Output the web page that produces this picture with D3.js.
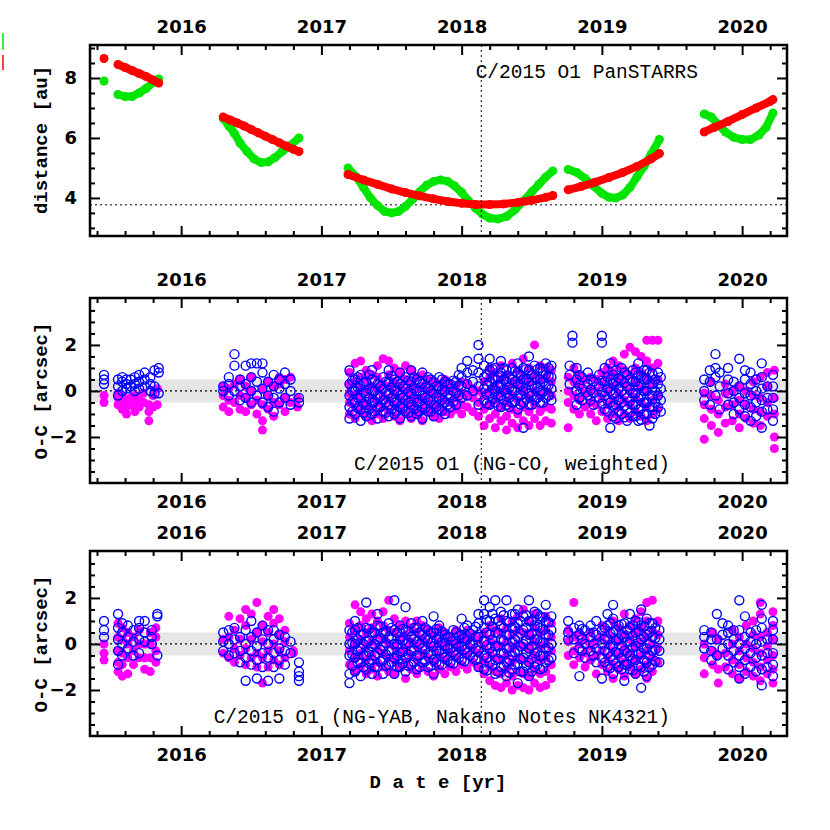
<!DOCTYPE html>
<html>
<head>
<meta charset="utf-8">
<script src="https://cdn.jsdelivr.net/npm/d3@7"></script>
<style>
body { margin: 0; background: #fff; }
.tick text { font-family: "DejaVu Sans"; font-weight: bold; font-size: 18px; fill: #000; }
.domain { display: none; }
.tick line { stroke: #000; stroke-width: 2; }
</style>
</head>
<body>
<div id="chart"></div>
<script>
// Comet C/2015 O1 - distances and O-C residuals

const W = 830, H = 830
const X0 = 90, X1 = 787
const PANELS = { TOP: [45, 236], MID: [298, 483], BOT: [551, 736] }

const years = [2016, 2017, 2018, 2019, 2020]
const perihelion = 2018.14
const periDist = 3.77

// heliocentric (red) and geocentric (green) distance, one array per season
const sunDist = [
  [[2015.45, 8.65]],
  [[2015.55, 8.45], [2015.6, 8.35], [2015.65, 8.25], [2015.7, 8.15], [2015.75, 8.05], [2015.8, 7.93], [2015.84, 7.83]],
  [[2016.30, 6.7], [2016.35, 6.6], [2016.4, 6.5], [2016.45, 6.4], [2016.5, 6.28], [2016.55, 6.17], [2016.6, 6.06], [2016.65, 5.95], [2016.7, 5.84], [2016.75, 5.73], [2016.8, 5.62], [2016.84, 5.55]],
  [[2017.19, 4.78], [2017.3, 4.6], [2017.4, 4.45], [2017.5, 4.3], [2017.6, 4.18], [2017.7, 4.07], [2017.8, 3.97], [2017.9, 3.88], [2018.0, 3.82], [2018.1, 3.78], [2018.2, 3.78], [2018.3, 3.8], [2018.4, 3.85], [2018.5, 3.92], [2018.6, 4.02], [2018.65, 4.08]],
  [[2018.76, 4.27], [2018.85, 4.38], [2018.95, 4.52], [2019.05, 4.68], [2019.15, 4.85], [2019.25, 5.05], [2019.35, 5.3], [2019.41, 5.48]],
  [[2019.73, 6.2], [2019.8, 6.35], [2019.9, 6.55], [2020.0, 6.78], [2020.1, 7.0], [2020.2, 7.22], [2020.22, 7.28]]
]
const earthDist = [
  [[2015.45, 7.9]],
  [[2015.55, 7.45], [2015.6, 7.38], [2015.65, 7.38], [2015.7, 7.5], [2015.75, 7.65], [2015.8, 7.85], [2015.84, 7.97]],
  [[2016.30, 6.65], [2016.34, 6.4], [2016.38, 6.15], [2016.42, 5.83], [2016.47, 5.55], [2016.52, 5.3], [2016.57, 5.18], [2016.62, 5.2], [2016.67, 5.35], [2016.72, 5.55], [2016.77, 5.72], [2016.84, 6.0]],
  [[2017.19, 5.0], [2017.25, 4.7], [2017.3, 4.35], [2017.35, 4.0], [2017.4, 3.75], [2017.45, 3.55], [2017.5, 3.5], [2017.55, 3.55], [2017.6, 3.72], [2017.65, 3.95], [2017.7, 4.2], [2017.75, 4.42], [2017.8, 4.55], [2017.85, 4.6], [2017.9, 4.55], [2017.95, 4.4], [2018.0, 4.18], [2018.05, 3.9], [2018.1, 3.65], [2018.15, 3.45], [2018.2, 3.33], [2018.26, 3.3], [2018.32, 3.38], [2018.38, 3.6], [2018.44, 3.9], [2018.5, 4.2], [2018.55, 4.45], [2018.6, 4.7], [2018.65, 4.9]],
  [[2018.76, 4.95], [2018.82, 4.85], [2018.88, 4.65], [2018.94, 4.4], [2019.0, 4.15], [2019.05, 4.02], [2019.1, 4.0], [2019.15, 4.1], [2019.2, 4.35], [2019.25, 4.7], [2019.3, 5.05], [2019.35, 5.45], [2019.41, 5.95]],
  [[2019.73, 6.8], [2019.78, 6.7], [2019.83, 6.45], [2019.88, 6.2], [2019.94, 6.02], [2020.0, 5.95], [2020.06, 5.95], [2020.12, 6.1], [2020.17, 6.35], [2020.22, 6.83]]
]

// O-C residuals: each row is [date, residual, residual, ...]
const coMagenta = [
  [2015.45, -0.2, -0.5], [2015.55, -0.3, -0.6, -0.1], [2015.58, -0.5, -0.8, -0.2], [2015.61, -0.4, -0.7, -1.0], [2015.64, -0.3, -0.6], [2015.67, -0.5, -0.9, -0.2], [2015.70, -0.4, -0.7], [2015.73, -0.1, -0.5], [2015.77, -0.6, -0.9, -1.3], [2015.80, -0.2, -0.7], [2015.83, -0.6, 0.1],
  [2016.30, -0.7, -0.2, 0.2], [2016.34, -0.9, -0.4, 0.1], [2016.38, -0.5, 0.3], [2016.42, -0.8, -0.2, 0.5], [2016.46, -0.9, -0.3, 0.2], [2016.50, -0.6, 0, 0.6], [2016.54, -1.0, -0.4], [2016.58, -1.3, -1.7, -0.6, 0.1], [2016.62, -0.8, -0.2, 0.4], [2016.66, -1.1, -0.5, 0.2], [2016.70, -0.6, 0.3, 0.6], [2016.74, -0.9, -0.3, 0.5], [2016.78, -0.5, 0.6], [2016.83, -0.7, -0.3],
  [2017.20, -1.0, -0.5, -0.1, 0.3, 0.8], [2017.24, -1.2, -0.7, -0.2, 0.4, 1.2], [2017.28, -0.9, -0.4, 0.1, 0.6, 1.3], [2017.32, -1.1, -0.6, 0, 0.5, 0.9], [2017.36, -1.3, -0.8, -0.3, 0.2, 0.7], [2017.40, -1.0, -0.5, 0.1, 0.6, 1.1], [2017.44, -1.2, -0.7, -0.2, 0.3, 1.4], [2017.48, -0.9, -0.4, 0.2, 0.7, 1.3], [2017.52, -1.1, -0.6, -0.1, 0.4, 1.0], [2017.56, -1.3, -0.8, -0.3, 0.2, 0.8], [2017.60, -1.0, -0.5, 0, 0.5, 1.1], [2017.64, -1.2, -0.7, -0.2, 0.3, 0.9], [2017.68, -1.0, -0.4, 0.1, 0.6], [2017.72, -1.3, -0.8, -0.3, 0.2, 0.7], [2017.76, -0.9, -0.5, 0, 0.5], [2017.80, -1.1, -0.6, -0.1, 0.4], [2017.84, -1.2, -0.7, -0.2, 0.3], [2017.88, -0.9, -0.4, 0.1, 0.5], [2017.92, -1.0, -0.5, 0, 0.3], [2017.96, -0.8, -0.3, 0.2], [2018.00, -1.0, -0.6, -0.1, 0.4], [2018.04, -0.7, -0.2, 0.3], [2018.08, -0.9, -0.3, 0.1], [2018.12, -1.1, -0.5, 0],
  [2018.16, -1.5, -0.8, -0.2, 0.4], [2018.20, -1.2, -0.6, 0, 0.6, 1.0], [2018.24, -1.6, -1.0, -0.4, 0.2, 0.8], [2018.28, -1.3, -0.7, -0.1, 0.5, 1.1], [2018.32, -1.7, -1.1, -0.5, 0.1, 0.7], [2018.36, -1.4, -0.8, -0.2, 0.4, 1.2], [2018.40, -1.6, -1.0, -0.4, 0.3, 0.9], [2018.44, -1.3, -0.7, 0, 0.6, 1.4], [2018.48, -1.5, -0.9, -0.3, 0.4, 1.0], [2018.52, -1.2, -0.6, 0, 0.7, 2.0], [2018.56, -1.5, -0.9, -0.2, 0.5, 1.1], [2018.60, -1.3, -0.7, 0, 0.6, 1.0], [2018.64, -1.4, -0.8, -0.2, 0.4, 0.9],
  [2018.76, -1.6, -0.5, 0, 0.6], [2018.80, -0.8, -0.2, 0.4, 1.0], [2018.84, -1.0, -0.4, 0.2, 0.7], [2018.88, -0.7, -0.1, 0.5], [2018.92, -1.0, -0.5, 0.1, 0.6], [2018.96, -1.3, -0.6, 0, 0.5], [2019.00, -0.9, -0.3, 0.3, 0.8], [2019.04, -1.2, -0.6, 0, 0.6, 1.0], [2019.08, -1.0, -0.4, 0.2, 0.8, 1.3], [2019.12, -1.3, -0.7, -0.1, 0.5, 1.1], [2019.16, -1.0, -0.4, 0.3, 0.9, 1.6], [2019.20, -1.2, -0.6, 0, 0.7, 1.9], [2019.24, -0.9, -0.3, 0.4, 1.0, 1.7], [2019.28, -1.1, -0.5, 0.1, 0.8, 1.5], [2019.32, -1.3, -0.7, 0, 0.6, 1.3, 2.2], [2019.36, -1.0, -0.4, 0.3, 1.0, 2.2], [2019.40, -0.8, -0.2, 0.5, 1.2, 2.2],
  [2019.73, -2.1, -1.2, -0.6, -0.1], [2019.78, -1.5, -0.8, -0.2, 0.4], [2019.83, -1.8, -1.0, -0.4], [2019.88, -1.4, -0.7, -0.1, 0.3], [2019.93, -1.3, -0.6, 0], [2019.98, -1.6, -1.0, -0.4, 0.2], [2020.03, -1.2, -0.6, 0], [2020.08, -1.4, -0.8, -0.2, 0.4], [2020.13, -1.5, -0.9, -0.3, 0.6], [2020.18, -1.1, -0.5, 0.2, 0.8], [2020.23, -2.5, -2.0, -1.0, -0.3, 0.9]
]
const coBlue = [
  [2015.45, 0.3, 0.5, 0.7], [2015.55, -0.2, 0.2, 0.5], [2015.58, 0, 0.4, 0.6], [2015.61, 0.1, 0.3, 0.5], [2015.64, 0.2, 0.5], [2015.67, 0, 0.3, 0.6], [2015.70, 0.1, 0.4, 0.7], [2015.74, 0.2, 0.5, 0.8], [2015.78, 0, 0.3, 0.6], [2015.81, -0.1, 0.2, 0.9], [2015.84, -0.1, 0.8, 1.0],
  [2016.30, 0, 0.2], [2016.34, -0.2, 0.3, 0.6], [2016.38, 0, 1.1, 1.6], [2016.42, -0.4, 0.2, 0.5], [2016.46, -0.3, 0.3, 1.1], [2016.50, -0.5, 0, 0.6, 1.2], [2016.54, -0.2, 0.4, 1.2], [2016.58, -0.5, 0.1, 0.8, 1.2], [2016.62, -0.7, -0.2, 0.4], [2016.66, -0.9, -0.3, 0.2, 0.7], [2016.70, -0.5, 0.1, 0.5], [2016.74, -0.3, 0.3, 0.8], [2016.78, -0.6, 0, 0.5], [2016.84, -0.5, -0.3],
  [2017.20, -1.2, -0.7, -0.2, 0.3, 0.9], [2017.24, -1.0, -0.5, 0, 0.5], [2017.28, -1.3, -0.8, -0.3, 0.2, 0.7], [2017.32, -1.1, -0.6, -0.1, 0.4], [2017.36, -1.0, -0.5, 0, 0.5, 0.9], [2017.40, -1.2, -0.7, -0.2, 0.3], [2017.44, -0.9, -0.4, 0.1, 0.6], [2017.48, -1.1, -0.6, -0.1, 0.4, 0.9], [2017.52, -1.0, -0.5, 0, 0.5], [2017.56, -1.2, -0.7, -0.2, 0.3, 0.8], [2017.60, -0.9, -0.4, 0.1, 0.6], [2017.64, -1.1, -0.6, -0.1, 0.4, 0.9], [2017.68, -1.0, -0.5, 0, 0.5], [2017.72, -1.2, -0.7, -0.2, 0.3, 0.8], [2017.76, -0.9, -0.4, 0.1, 0.6], [2017.80, -1.1, -0.6, -0.1, 0.4], [2017.84, -0.8, -0.3, 0.2, 0.6], [2017.88, -1.0, -0.5, 0, 0.4], [2017.92, -0.7, -0.2, 0.3], [2017.96, -0.6, -0.1, 0.4], [2018.00, -0.3, 0.2, 0.6, 1.0], [2018.04, -0.2, 0.3, 0.8, 1.3], [2018.08, 0, 0.4, 0.9], [2018.12, -0.6, 0.2, 0.8, 1.4, 2.0],
  [2018.16, -0.4, 0.1, 0.6, 1.1], [2018.20, -0.6, -0.1, 0.4, 0.9, 1.4], [2018.24, -0.5, 0, 0.5, 1.0], [2018.28, -0.7, -0.2, 0.3, 0.8, 1.3], [2018.32, -0.6, -0.1, 0.4, 0.9], [2018.36, -0.5, 0, 0.5, 1.0], [2018.40, -0.8, -0.2, 0.3, 0.8, 1.2], [2018.44, -1.6, -0.5, 0, 0.5, 1.0], [2018.48, -0.6, -0.1, 0.4, 0.9, 1.5], [2018.52, -0.4, 0.1, 0.6, 1.1], [2018.56, -0.5, 0, 0.5, 1.0], [2018.60, -0.3, 0.2, 0.7, 1.2], [2018.64, -0.4, 0.1, 0.6, 1.1],
  [2018.77, 0.3, 0.7, 1.1], [2018.79, 2.1, 2.4], [2018.82, -0.6, 0, 0.5, 1.0], [2018.86, -0.4, 0.1, 0.6], [2018.90, -0.2, 0.3, 0.8], [2018.94, -0.6, -0.1, 0.4], [2018.98, -0.3, 0.2, 0.7], [2019.00, 2.1, 2.4], [2019.02, -0.8, -0.2, 0.4, 1.0], [2019.06, -1.6, -0.5, 0, 0.5, 1.2], [2019.10, -1.2, -0.6, -0.1, 0.4, 0.9], [2019.14, -1.0, -0.5, 0, 0.5, 1.0], [2019.18, -1.3, -0.8, -0.3, 0.2, 0.7], [2019.22, -1.1, -0.6, -0.1, 0.4, 0.9], [2019.26, -1.3, -0.8, -0.3, 0.2, 0.7, 1.2], [2019.30, -1.0, -0.5, 0, 0.5, 0.9], [2019.34, -1.5, -0.7, -0.2, 0.3, 0.8], [2019.38, -1.0, -0.5, 0, 0.5], [2019.42, -0.9, -0.4, 0.1, 0.6],
  [2019.73, -0.4, 0, 0.5], [2019.77, -0.6, 0.4, 0.9], [2019.81, -0.2, 0.6, 1.0, 1.6], [2019.84, -0.8, 0.2, 0.8], [2019.90, -0.6, -0.1, 0.5, 1.0], [2019.94, -1.0, -0.5, 0, 0.4], [2019.98, -0.8, -0.3, 0.2, 1.4], [2020.02, -1.1, -0.6, -0.1, 0.5, 0.9], [2020.06, -1.3, -0.7, -0.2, 0.3, 0.8], [2020.10, -1.1, -0.5, 0, 0.5], [2020.14, -1.6, -0.9, -0.4, 0.1, 0.6, 1.2], [2020.18, -0.8, -0.3, 0.2], [2020.22, -1.3, -0.8, -0.3, 0.2, 0.7]
]
// extra blue points filling the dense cores of the long seasons
const coBlueCore = [
  [2017.22, -0.9, -0.45, 0, 0.45], [2017.26, -0.75, -0.3, 0.15, 0.6], [2017.30, -0.95, -0.55, -0.05, 0.35], [2017.34, -0.8, -0.35, 0.1, 0.7], [2017.38, -0.9, -0.45, 0, 0.45], [2017.42, -0.7, -0.25, 0.2], [2017.46, -0.95, -0.5, -0.05, 0.4], [2017.50, -0.8, -0.3, 0.15, 0.65], [2017.54, -0.9, -0.45, 0, 0.4], [2017.58, -0.75, -0.3, 0.2], [2017.62, -0.95, -0.5, -0.05, 0.45], [2017.66, -0.8, -0.35, 0.1, 0.6], [2017.70, -0.9, -0.45, 0, 0.4], [2017.74, -0.75, -0.3, 0.15], [2017.78, -0.9, -0.45, 0, 0.5], [2017.82, -0.7, -0.25, 0.2], [2017.86, -0.85, -0.4, 0.05, 0.5], [2017.90, -0.6, -0.15, 0.3], [2017.94, -0.45, 0, 0.45], [2017.98, -0.2, 0.25, 0.7],
  [2018.18, -0.55, -0.15, 0.25, 0.7], [2018.22, -0.35, 0.1, 0.55, 0.95], [2018.26, -0.65, -0.25, 0.2, 0.6], [2018.30, -0.4, 0.05, 0.5, 1.0], [2018.34, -0.7, -0.3, 0.15, 0.6], [2018.38, -0.45, 0, 0.4, 0.85], [2018.42, -0.6, -0.2, 0.25, 0.7], [2018.46, -0.35, 0.1, 0.5, 0.95], [2018.50, -0.6, -0.2, 0.25, 0.7], [2018.54, -0.3, 0.15, 0.55, 0.95], [2018.58, -0.5, -0.05, 0.4, 0.85], [2018.62, -0.2, 0.25, 0.65, 1.0],
  [2018.84, -0.3, 0.25, 0.7], [2018.92, -0.4, 0.05, 0.5], [2019.00, -0.55, -0.05, 0.45], [2019.04, -0.9, -0.4, 0.1, 0.6], [2019.08, -1.1, -0.65, -0.15, 0.3, 0.7], [2019.12, -0.9, -0.4, 0.1, 0.55], [2019.16, -1.15, -0.65, -0.15, 0.35, 0.8], [2019.20, -0.95, -0.45, 0.05, 0.5], [2019.24, -1.1, -0.6, -0.1, 0.4, 0.8], [2019.28, -1.25, -0.75, -0.25, 0.25, 0.65], [2019.32, -1.0, -0.5, 0, 0.5, 0.9], [2019.36, -1.2, -0.7, -0.2, 0.3, 0.75], [2019.40, -0.7, -0.2, 0.3, 0.8]
]
const yabMagenta = [
  [2015.45, -0.7, -0.4, 0], [2015.55, -1.2, -0.8, -0.3, 0.3, 0.9], [2015.58, -1.4, -0.9, -0.4, 0.2, 0.7], [2015.62, -1.3, -0.6, 0, 0.5], [2015.66, -0.9, -0.3, 0.3], [2015.70, -0.6, 0, 0.6], [2015.74, -1.1, -0.6, 0], [2015.78, -1.2, -0.6, 0, 0.5], [2015.82, -0.8, -0.3, 0.3, 0.7],
  [2016.30, -0.4, 0.2], [2016.34, -0.6, 0.3, 1.2], [2016.38, -0.8, -0.2, 0.6], [2016.42, -0.5, 0.2, 1.1], [2016.46, -0.9, -0.2, 0.8, 1.5], [2016.50, -0.6, 0.2, 1.3], [2016.54, -1.0, -0.4, 0.5, 1.8], [2016.58, -1.7, -0.6, 0.1, 0.8], [2016.62, -1.0, -0.3, 0.5, 1.2], [2016.66, -0.7, 0, 0.9, 1.5], [2016.70, -0.9, -0.3, 0.4, 1.1], [2016.74, -0.6, 0.1, 0.6], [2016.80, -0.4, -0.3],
  [2017.20, -0.9, -0.3, 0.3, 0.9], [2017.24, -1.2, -0.6, 0, 0.6, 1.7], [2017.28, -1.0, -0.4, 0.2, 0.8, 1.4], [2017.32, -1.3, -0.7, -0.1, 0.5, 1.1], [2017.36, -1.1, -0.5, 0.1, 0.7, 1.3], [2017.40, -1.4, -0.8, -0.2, 0.4, 1.0], [2017.44, -1.0, -0.4, 0.2, 0.8, 1.4], [2017.48, -1.2, -0.6, 0, 0.6, 1.9], [2017.52, -1.3, -0.7, -0.1, 0.5, 1.1], [2017.56, -1.0, -0.4, 0.2, 0.8], [2017.60, -1.5, -0.8, -0.2, 0.4, 1.0], [2017.64, -1.1, -0.5, 0.1, 0.7], [2017.68, -1.3, -0.7, -0.1, 0.5, 1.0], [2017.72, -1.0, -0.4, 0.2, 0.8], [2017.76, -1.2, -0.6, 0, 0.6], [2017.80, -1.4, -0.8, -0.2, 0.4], [2017.84, -1.1, -0.5, 0.1, 0.7], [2017.88, -1.3, -0.7, -0.1, 0.5], [2017.92, -1.0, -0.4, 0.2], [2017.96, -1.2, -0.6, 0, 0.6], [2018.00, -0.9, -0.3, 0.3], [2018.04, -1.1, -0.5, 0.1, 0.6], [2018.08, -0.8, -0.2, 0.4], [2018.12, -1.0, -0.4, 0.2],
  [2018.16, -1.3, -0.7, -0.1, 0.5], [2018.20, -1.6, -1.0, -0.4, 0.2, 0.8], [2018.24, -1.8, -1.2, -0.6, 0, 0.6], [2018.28, -1.9, -1.3, -0.7, -0.1, 0.5, 1.1], [2018.32, -1.7, -1.1, -0.5, 0.1, 0.7], [2018.36, -2.0, -1.4, -0.8, -0.2, 0.4, 1.0], [2018.40, -1.8, -1.2, -0.6, 0, 0.6, 1.2], [2018.44, -1.9, -1.3, -0.7, -0.1, 0.5, 1.5], [2018.48, -2.0, -1.4, -0.8, -0.2, 0.4, 1.0], [2018.52, -1.7, -1.1, -0.5, 0.1, 0.7, 1.3], [2018.56, -1.9, -1.3, -0.7, -0.1, 0.5], [2018.60, -1.8, -1.2, -0.6, 0, 0.6, 1.2], [2018.64, -1.5, -0.9, -0.3, 0.3, 0.9],
  [2018.76, -0.5, 0.1, 0.6], [2018.80, -0.9, -0.3, 0.3, 1.8], [2018.84, -0.6, 0, 0.5], [2018.88, -1.0, -0.4, 0.2], [2018.92, -0.7, -0.1, 0.5], [2018.96, -1.3, -0.5, 0.1], [2019.00, -0.9, -0.3, 0.3, 0.8], [2019.04, -1.2, -0.6, 0, 0.6], [2019.08, -1.5, -0.9, -0.3, 0.3, 1.0], [2019.12, -1.1, -0.5, 0.1, 0.7], [2019.16, -1.4, -0.8, -0.2, 0.4, 1.3], [2019.20, -1.0, -0.4, 0.2, 0.8], [2019.24, -1.3, -0.7, -0.1, 0.5, 1.1], [2019.28, -1.1, -0.5, 0.1, 0.7, 1.4], [2019.32, -1.5, -0.9, -0.3, 0.3, 1.0, 1.8], [2019.36, -1.2, -0.6, 0, 0.6, 1.9], [2019.40, -0.8, -0.2, 0.4, 1.0],
  [2019.73, -1.3, -0.6, 0], [2019.79, -0.9, -0.3, 0.5], [2019.83, -1.7, -1.1, -0.5, 0.2], [2019.88, -1.0, -0.4], [2019.93, -1.3, -0.7, 0, 0.6], [2019.98, -1.5, -0.9, -0.3, 0.3], [2020.03, -1.2, -0.6, 0, 0.8], [2020.08, -1.4, -0.8, -0.2, 0.4, 1.0], [2020.13, -1.6, -1.0, -0.4, 0.3, 1.3, 1.8], [2020.18, -1.3, -0.7, -0.1, 0.5], [2020.22, -1.7, -1.1, -0.5, 0.2, 0.8, 1.4]
]
const yabBlue = [
  [2015.45, 0.3, 0.6, 1.0], [2015.55, -0.9, -0.3, 0.2, 0.7, 1.3], [2015.58, -0.5, 0, 0.5, 0.9], [2015.62, -0.2, 0.3, 0.8], [2015.66, -0.5, 0.1, 0.6], [2015.70, -0.4, 0.2, 0.7, 1.0], [2015.74, 0.1, 0.5, 1.0], [2015.79, 0, 0.3, 0.6], [2015.83, -0.5, 1.2, 1.3],
  [2016.30, -0.3, 0.1, 0.5], [2016.34, -0.5, 0, 0.6], [2016.38, -0.4, 0.2, 0.7], [2016.42, -0.8, -0.3, 0.3], [2016.46, -1.6, -0.6, 0, 0.6], [2016.50, -0.9, -0.3, 0.3, 1.0], [2016.54, -1.5, -0.7, -0.1, 0.5], [2016.58, -1.0, -0.4, 0.2, 0.8], [2016.62, -1.6, -0.6, 0, 0.6], [2016.66, -1.0, -0.4, 0.2, 0.6], [2016.70, -1.5, -0.7, -0.2, 0.4], [2016.74, -0.9, -0.3, 0.3], [2016.78, -0.4, 0.1], [2016.84, -1.6, -1.4, -1.2, -0.8],
  [2017.20, -1.7, -1.3, -0.5, 0, 0.6], [2017.24, -1.2, -0.6, 0, 0.6, 1.0], [2017.28, -1.4, -0.8, -0.2, 0.4], [2017.32, -1.1, -0.5, 0.1, 0.7, 1.8], [2017.36, -1.3, -0.7, -0.1, 0.5], [2017.40, -1.0, -0.4, 0.2, 0.8, 1.3], [2017.44, -1.3, -0.7, -0.1, 0.5], [2017.48, -0.9, -0.3, 0.3, 0.9], [2017.52, -1.3, -0.6, 0, 0.6, 1.9], [2017.56, -1.0, -0.4, 0.2, 0.8], [2017.60, -1.2, -0.6, 0, 0.6, 1.6], [2017.64, -0.9, -0.3, 0.3, 0.9], [2017.68, -1.1, -0.5, 0.1, 0.7], [2017.72, -0.8, -0.2, 0.4, 1.0], [2017.76, -1.0, -0.4, 0.2, 0.6], [2017.80, -1.3, -0.7, -0.1, 0.5, 1.2], [2017.84, -0.9, -0.3, 0.3, 0.8], [2017.88, -0.6, -0.1, 0.4], [2017.92, -0.8, -0.2, 0.3], [2017.96, -0.5, 0, 0.5], [2018.00, -0.7, -0.1, 0.4, 1.1], [2018.04, -0.4, 0.2, 0.8], [2018.08, -0.6, 0, 0.6], [2018.12, -1.0, -0.3, 0.3, 0.9, 1.3],
  [2018.16, -1.1, -0.5, 0.1, 0.7, 1.3, 1.9], [2018.20, -0.8, -0.2, 0.4, 1.0, 1.6], [2018.24, -1.3, -0.7, -0.1, 0.5, 1.1, 1.9], [2018.28, -1.0, -0.4, 0.2, 0.8, 1.4], [2018.32, -1.4, -0.8, -0.2, 0.4, 1.0, 1.9], [2018.36, -1.1, -0.5, 0.1, 0.7, 1.3], [2018.40, -1.7, -0.9, -0.3, 0.3, 0.9, 1.5], [2018.44, -1.2, -0.6, 0, 0.6, 1.2], [2018.48, -1.4, -0.8, -0.2, 0.4, 1.0, 1.9], [2018.52, -1.0, -0.4, 0.2, 0.8, 1.4], [2018.56, -1.1, -0.5, 0.1, 0.7, 1.2], [2018.60, -0.8, -0.2, 0.4, 1.0, 1.7], [2018.64, -0.6, 0, 0.6, 1.2],
  [2018.76, 0.2, 0.5, 1.0], [2018.80, -0.4, 0.2, 0.7], [2018.84, -1.4, -0.2, 0.4, 0.8], [2018.88, -0.6, 0, 0.6], [2018.92, -0.3, 0.3, 0.8], [2018.96, -0.8, -0.2, 0.4, 1.0], [2019.00, -1.5, -0.6, 0, 0.6], [2019.04, -1.0, -0.4, 0.2, 0.8, 1.3], [2019.08, -1.3, -0.7, -0.1, 0.5, 1.1, 1.7], [2019.12, -1.0, -0.4, 0.2, 0.8], [2019.16, -1.6, -0.9, -0.3, 0.3, 0.9], [2019.20, -1.1, -0.5, 0.1, 0.7, 1.3], [2019.24, -1.3, -0.7, -0.1, 0.5, 1.0], [2019.28, -1.9, -1.0, -0.4, 0.2, 0.8, 1.5], [2019.32, -1.4, -0.8, -0.2, 0.4, 1.1], [2019.36, -0.9, -0.3, 0.3, 0.9], [2019.41, -0.8, -0.3, 0.2, 0.6],
  [2019.73, -0.2, 0.3, 0.6], [2019.78, -0.7, -0.3, 0.2, 0.5], [2019.82, -0.5, 0.2, 1.3], [2019.86, -0.2, 0.4, 0.9], [2019.90, -1.1, -0.5, 0, 0.5, 0.8], [2019.94, -0.8, -0.3, 0.2, 0.6], [2019.98, -1.5, -1.0, -0.5, 0, 0.6, 1.9], [2020.02, -1.3, -0.7, -0.2, 0.3, 1.2], [2020.06, -1.0, -0.4, 0.1, 0.5], [2020.10, -1.2, -0.6, 0, 0.6], [2020.14, -1.8, -1.1, -0.5, 0.1, 0.7, 1.1, 1.7], [2020.18, -1.0, -0.4, 0.2], [2020.22, -1.4, -0.9, -0.4, 0.2, 0.6, 1.0]
]
const yabBlueCore = [
  [2017.22, -0.95, -0.45, 0.05, 0.5], [2017.26, -0.8, -0.3, 0.2, 0.7], [2017.30, -1.0, -0.5, 0, 0.45], [2017.34, -0.85, -0.35, 0.15, 0.65], [2017.38, -1.0, -0.5, 0, 0.5], [2017.42, -0.75, -0.25, 0.25, 0.75], [2017.46, -0.95, -0.45, 0.05, 0.55], [2017.50, -0.8, -0.3, 0.2, 0.7], [2017.54, -1.0, -0.5, 0, 0.5], [2017.58, -0.85, -0.35, 0.15, 0.65], [2017.62, -0.95, -0.45, 0.05, 0.55], [2017.66, -0.8, -0.3, 0.2, 0.7], [2017.70, -1.0, -0.5, 0, 0.5], [2017.74, -0.75, -0.25, 0.25, 0.7], [2017.78, -0.95, -0.45, 0.05, 0.5], [2017.82, -0.8, -0.3, 0.2, 0.65], [2017.86, -0.9, -0.4, 0.1, 0.55], [2017.90, -0.7, -0.2, 0.3], [2017.94, -0.85, -0.35, 0.15, 0.6], [2017.98, -0.6, -0.1, 0.35], [2018.02, -0.75, -0.25, 0.25, 0.7], [2018.06, -0.5, 0, 0.45], [2018.10, -0.7, -0.2, 0.3, 0.75],
  [2018.18, -1.15, -0.6, -0.05, 0.5, 1.05], [2018.22, -0.9, -0.35, 0.2, 0.75, 1.3], [2018.26, -1.2, -0.65, -0.1, 0.45, 1.0], [2018.30, -0.95, -0.4, 0.15, 0.7, 1.25], [2018.34, -1.25, -0.7, -0.15, 0.4, 0.95], [2018.38, -0.9, -0.35, 0.2, 0.75, 1.3], [2018.42, -1.2, -0.65, -0.1, 0.45, 1.0], [2018.46, -0.95, -0.4, 0.15, 0.7, 1.25], [2018.50, -1.2, -0.65, -0.1, 0.45, 1.0], [2018.54, -0.9, -0.35, 0.2, 0.75, 1.3], [2018.58, -1.05, -0.5, 0.05, 0.6, 1.15], [2018.62, -0.7, -0.15, 0.4, 0.95],
  [2018.86, -0.3, 0.2, 0.65], [2018.94, -0.5, 0, 0.5], [2019.02, -0.8, -0.3, 0.2, 0.7], [2019.06, -1.05, -0.55, -0.05, 0.45, 0.9], [2019.10, -0.85, -0.35, 0.15, 0.6], [2019.14, -1.1, -0.6, -0.1, 0.4, 0.85], [2019.18, -0.9, -0.4, 0.1, 0.6], [2019.22, -1.15, -0.65, -0.15, 0.35, 0.8], [2019.26, -0.95, -0.45, 0.05, 0.55, 0.95], [2019.30, -1.2, -0.7, -0.2, 0.3, 0.75], [2019.34, -1.0, -0.5, 0, 0.5, 0.9], [2019.38, -0.75, -0.25, 0.25, 0.7]
]

const svg = d3.select("#chart").append("svg")
    .attr("width", W)
    .attr("height", H)
    .style("background", "#fff")

const x = d3.scaleLinear().domain([2015.35, 2020.32]).range([X0, X1])
const yDist = d3.scaleLinear().domain([2.73, 9.1]).range(PANELS.TOP.slice().reverse())
const yMid = d3.scaleLinear().domain([-4, 4.04]).range(PANELS.MID.slice().reverse())
const yBot = d3.scaleLinear().domain([-4, 4.04]).range(PANELS.BOT.slice().reverse())

const minorX = d3.range(2015.4, 2020.35, 0.2).map(d => +d.toFixed(1)).filter(d => !years.includes(d))

// draw axes/ticks of a panel
let drawFrame = (y, yMajor, yMinor, topLabels, bottomLabels) => {
    const [yb, yt] = y.range()
    const g = svg.append("g")
    g.append("g").attr("transform", `translate(0,${yt})`)
        .call(d3.axisTop(x).tickValues(years).tickSize(-10).tickPadding(12).tickFormat(topLabels ? d3.format("d") : ""))
    g.append("g").attr("transform", `translate(0,${yt})`)
        .call(d3.axisTop(x).tickValues(minorX).tickSize(-5).tickFormat(""))
    g.append("g").attr("transform", `translate(0,${yb})`)
        .call(d3.axisBottom(x).tickValues(years).tickSize(-10).tickPadding(12).tickFormat(bottomLabels ? d3.format("d") : ""))
    g.append("g").attr("transform", `translate(0,${yb})`)
        .call(d3.axisBottom(x).tickValues(minorX).tickSize(-5).tickFormat(""))
    g.append("g").attr("transform", `translate(${X0},0)`)
        .call(d3.axisLeft(y).tickValues(yMajor).tickSize(-10).tickPadding(13).tickFormat(d3.format("d")))
    g.append("g").attr("transform", `translate(${X0},0)`)
        .call(d3.axisLeft(y).tickValues(yMinor).tickSize(-5).tickFormat(""))
    g.append("g").attr("transform", `translate(${X1},0)`)
        .call(d3.axisRight(y).tickValues(yMajor).tickSize(-10).tickFormat(""))
    g.append("g").attr("transform", `translate(${X1},0)`)
        .call(d3.axisRight(y).tickValues(yMinor).tickSize(-5).tickFormat(""))
    g.append("rect")
        .attr("x", X0).attr("y", yt)
        .attr("width", X1 - X0).attr("height", yb - yt)
        .attr("fill", "none").attr("stroke", "#000").attr("stroke-width", 2.5)
}

// ---- top panel: distances
svg.append("line")
    .attr("x1", X0).attr("x2", X1)
    .attr("y1", yDist(periDist)).attr("y2", yDist(periDist))
    .attr("stroke", "#000").attr("stroke-width", 1).attr("stroke-dasharray", "2,3")

const lineDist = d3.line().x(d => x(d[0])).y(d => yDist(d[1]))
let drawDist = (seasons, color) => {
    seasons.forEach(s => {
        svg.append("path").attr("d", lineDist(s))
            .attr("fill", "none").attr("stroke", color)
            .attr("stroke-width", 8).attr("stroke-linecap", "round")
        svg.append("g").selectAll("circle").data(s).enter().append("circle")
            .attr("cx", d => x(d[0])).attr("cy", d => yDist(d[1]))
            .attr("r", 4.5).attr("fill", color)
    })
}
drawDist(earthDist, "#00e600")
drawDist(sunDist, "#ff0000")

drawFrame(yDist, [4, 6, 8], d3.range(3, 9.01, 0.5).filter(d => d % 2 !== 0), true, false)

svg.append("text")
    .attr("x", 698).attr("y", 78).attr("text-anchor", "end")
    .attr("font-family", "Liberation Mono").attr("font-size", "19.5px")
    .text("C/2015 O1 PanSTARRS")

// ---- residual panels
let drawResiduals = (y, magenta, blue, title) => {
    svg.append("rect")
        .attr("x", X0).attr("width", X1 - X0)
        .attr("y", y(0.5)).attr("height", y(-0.5) - y(0.5))
        .attr("fill", "#e6e6e6")
    svg.append("line")
        .attr("x1", X0).attr("x2", X1).attr("y1", y(0)).attr("y2", y(0))
        .attr("stroke", "#000").attr("stroke-width", 1.2).attr("stroke-dasharray", "2,3")

    const flat = rows => rows.flatMap(r => r.slice(1).map(v => [r[0], v]))
    svg.append("g").selectAll("circle").data(flat(magenta)).enter().append("circle")
        .attr("cx", d => x(d[0])).attr("cy", d => y(d[1]))
        .attr("r", 4.5).attr("fill", "#ff00ff")
    svg.append("g").selectAll("circle").data(flat(blue)).enter().append("circle")
        .attr("cx", d => x(d[0])).attr("cy", d => y(d[1]))
        .attr("r", 4.5).attr("fill", "none").attr("stroke", "#0000ff").attr("stroke-width", 1.4)

    drawFrame(y, [-2, 0, 2], d3.range(-3.5, 3.51, 0.5).filter(d => d % 2 !== 0), true, true)

    svg.append("text")
        .attr("x", 670).attr("y", y(-3.45)).attr("text-anchor", "end")
        .attr("font-family", "Liberation Mono").attr("font-size", "19.5px")
        .text(title)
}
drawResiduals(yMid, coMagenta, coBlue.concat(coBlueCore), "C/2015 O1 (NG-CO, weighted)")
drawResiduals(yBot, yabMagenta, yabBlue.concat(yabBlueCore), "C/2015 O1 (NG-YAB, Nakano Notes NK4321)")

// perihelion marker through all panels
;[PANELS.TOP, PANELS.MID, PANELS.BOT].forEach(p => {
    svg.append("line")
        .attr("x1", x(perihelion)).attr("x2", x(perihelion))
        .attr("y1", p[0]).attr("y2", p[1])
        .attr("stroke", "#000").attr("stroke-width", 1).attr("stroke-dasharray", "2,3")
})

// axis titles
let yTitle = (text, cy) => svg.append("text")
    .attr("transform", `translate(47,${cy}) rotate(-90)`)
    .attr("text-anchor", "middle")
    .attr("font-family", "Liberation Mono").attr("font-weight", "bold").attr("font-size", "19px")
    .text(text)
yTitle("distance [au]", 140)
yTitle("O-C [arcsec]", 391)
yTitle("O-C [arcsec]", 644)

svg.append("text")
    .attr("x", 438).attr("y", 788).attr("text-anchor", "middle")
    .attr("font-family", "Liberation Mono").attr("font-weight", "bold").attr("font-size", "19px")
    .text("D a t e [yr]")

// little colour keys at top left
svg.append("line").attr("x1", 3).attr("x2", 3).attr("y1", 33).attr("y2", 50).attr("stroke", "#00e600").attr("stroke-width", 1.5)
svg.append("line").attr("x1", 3).attr("x2", 3).attr("y1", 55).attr("y2", 70).attr("stroke", "#ff0000").attr("stroke-width", 1.5)
</script>
</body>
</html>
